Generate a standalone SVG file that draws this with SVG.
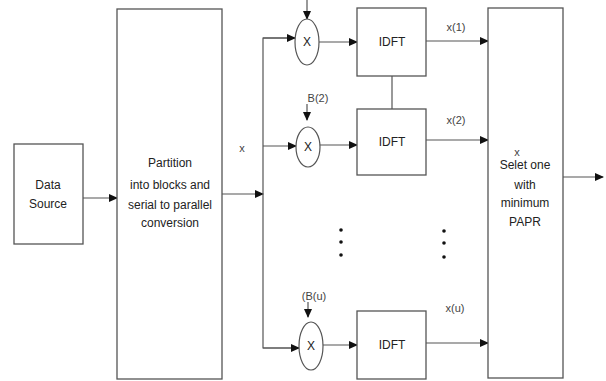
<svg xmlns="http://www.w3.org/2000/svg" width="606" height="381" viewBox="0 0 606 381">
<defs>
<marker id="ah" markerWidth="9" markerHeight="8" refX="8" refY="4" orient="auto" markerUnits="userSpaceOnUse">
<path d="M0,0 L9,4 L0,8 Z" fill="#111"/>
</marker>
<style>
.box{fill:#fff;stroke:#555;stroke-width:1.3}
.ell{fill:#fff;stroke:#555;stroke-width:1.2}
.ln{fill:none;stroke:#555;stroke-width:1.2}
.t{font-family:"Liberation Sans",Arial,sans-serif;font-size:12px;fill:#222;text-anchor:middle}
.s{font-family:"Liberation Sans",Arial,sans-serif;font-size:11px;fill:#444;text-anchor:middle}
.dot{fill:#111}
</style>
</defs>
<rect width="606" height="381" fill="#fff"/>
<g id="connectors">
<line class="ln" x1="83" y1="198" x2="117" y2="198" marker-end="url(#ah)"/>
<line class="ln" x1="222" y1="194" x2="263" y2="194" marker-end="url(#ah)"/>
<path class="ln" d="M295,38 L263,38 L263,348 L299,348"/>
<line class="ln" x1="263" y1="38" x2="295" y2="38" marker-end="url(#ah)"/>
<line class="ln" x1="263" y1="146" x2="296" y2="146" marker-end="url(#ah)"/>
<line class="ln" x1="263" y1="348" x2="299" y2="348" marker-end="url(#ah)"/>
<line class="ln" x1="307" y1="0" x2="307" y2="19" marker-end="url(#ah)"/>
<line class="ln" x1="307" y1="104" x2="307" y2="120" marker-end="url(#ah)"/>
<line class="ln" x1="308" y1="302" x2="308" y2="317" marker-end="url(#ah)"/>
<line class="ln" x1="319" y1="42" x2="357" y2="42" marker-end="url(#ah)"/>
<line class="ln" x1="320" y1="145" x2="357" y2="145" marker-end="url(#ah)"/>
<line class="ln" x1="323" y1="345" x2="357" y2="345" marker-end="url(#ah)"/>
<line class="ln" x1="392" y1="76" x2="392" y2="109"/>
<line class="ln" x1="426" y1="41" x2="488" y2="41" marker-end="url(#ah)"/>
<line class="ln" x1="426" y1="140" x2="488" y2="140" marker-end="url(#ah)"/>
<line class="ln" x1="426" y1="343" x2="488" y2="343" marker-end="url(#ah)"/>
<line class="ln" x1="563" y1="177" x2="603" y2="177" marker-end="url(#ah)"/>
</g>
<g id="data-source">
<rect class="box" x="14" y="144" width="69" height="100"/>
<text class="t" x="48" y="189">Data</text>
<text class="t" x="48" y="208">Source</text>
</g>
<g id="partition">
<rect class="box" x="117" y="9" width="105" height="370"/>
<text class="t" x="170" y="167">Partition</text>
<text class="t" x="170" y="189">into blocks and</text>
<text class="t" x="170" y="209">serial to parallel</text>
<text class="t" x="170" y="227">conversion</text>
</g>
<text class="s" x="242" y="152">x</text>
<g id="mult1">
<ellipse class="ell" cx="307" cy="42" rx="12" ry="23"/>
<text class="t" x="307" y="46">X</text>
</g>
<g id="mult2">
<ellipse class="ell" cx="308" cy="147" rx="12" ry="20"/>
<text class="t" x="308" y="151">X</text>
<text class="s" x="318" y="102">B(2)</text>
</g>
<g id="mult3">
<ellipse class="ell" cx="311" cy="346" rx="12" ry="24"/>
<text class="t" x="311" y="350">X</text>
<text class="s" x="314" y="300">(B(u)</text>
</g>
<g id="idft1">
<rect class="box" x="357" y="8" width="69" height="68"/>
<text class="t" x="392" y="46">IDFT</text>
</g>
<g id="idft2">
<rect class="box" x="357" y="109" width="69" height="66"/>
<text class="t" x="392" y="146">IDFT</text>
</g>
<g id="idft3">
<rect class="box" x="357" y="311" width="69" height="68"/>
<text class="t" x="392" y="349">IDFT</text>
</g>
<g id="dots">
<circle class="dot" cx="341" cy="230" r="1.8"/>
<circle class="dot" cx="341" cy="242" r="1.8"/>
<circle class="dot" cx="341" cy="255" r="1.8"/>
<circle class="dot" cx="444" cy="231" r="1.8"/>
<circle class="dot" cx="444" cy="243" r="1.8"/>
<circle class="dot" cx="444" cy="257" r="1.8"/>
</g>
<text class="s" x="456" y="31">x(1)</text>
<text class="s" x="456" y="124">x(2)</text>
<text class="s" x="455" y="312">x(u)</text>
<g id="select">
<rect class="box" x="488" y="8" width="75" height="370"/>
<text class="s" x="517" y="156">x</text>
<text class="t" x="525" y="169">Selet one</text>
<text class="t" x="525" y="189">with</text>
<text class="t" x="525" y="207">minimum</text>
<text class="t" x="525" y="226">PAPR</text>
</g>
</svg>
